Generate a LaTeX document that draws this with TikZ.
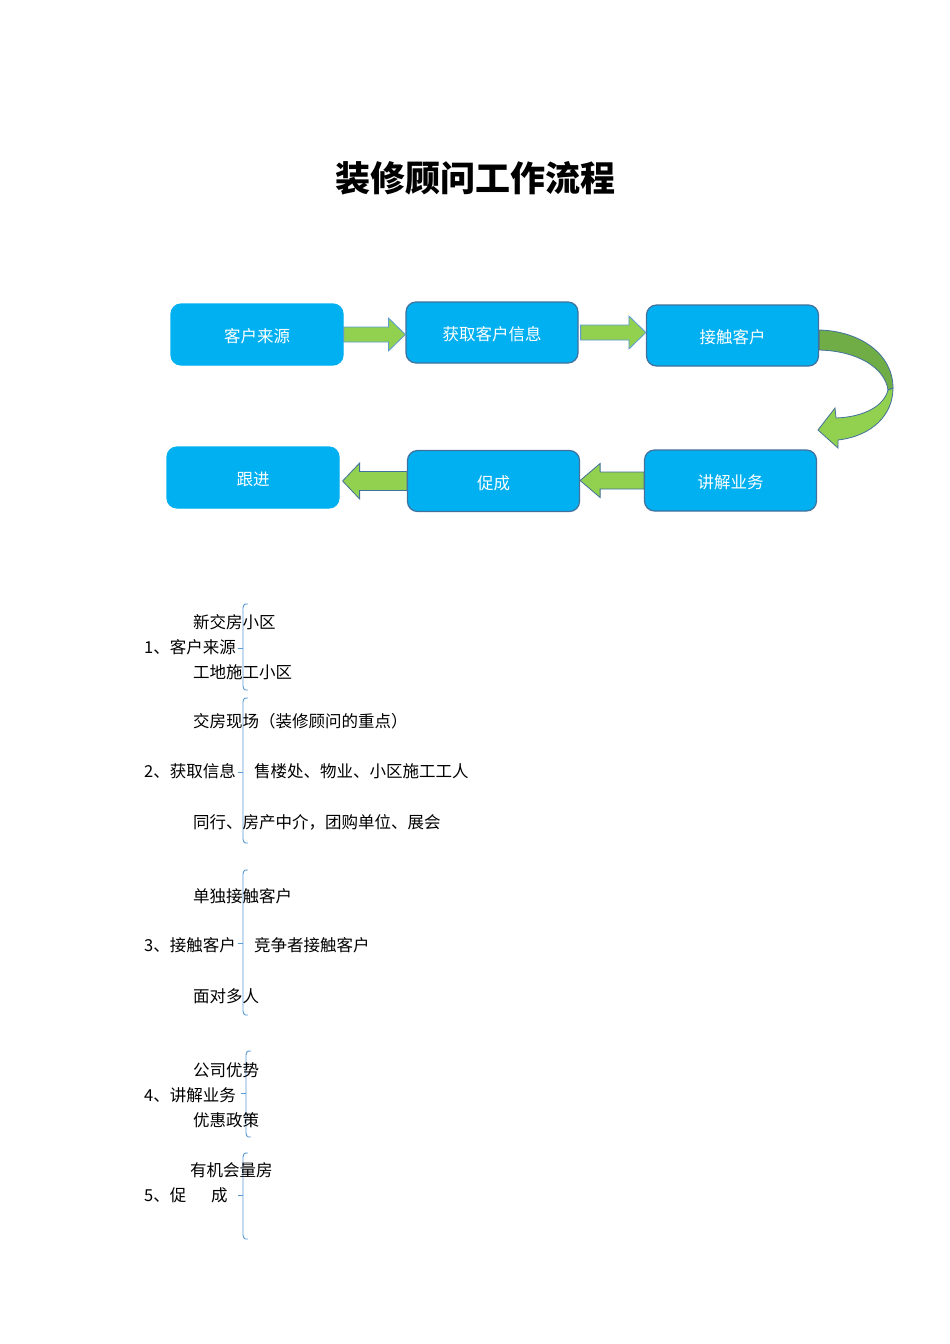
\documentclass[tikz,border=0pt]{standalone}
\usepackage{fontspec}
\setmainfont{Noto Sans CJK SC}
\usetikzlibrary{calc}
\definecolor{boxblue}{HTML}{00B0F0}
\definecolor{edgeblue}{HTML}{41719C}
\definecolor{lineblue}{HTML}{5B9BD5}
\definecolor{lightgreen}{HTML}{92D050}
\definecolor{darkgreen}{HTML}{70AD47}
\tikzstyle{stage} = [
    rectangle,
    rounded corners=10pt,
    minimum width=172pt,
    minimum height=61pt,
    inner sep=0pt,
    text height=17.5pt,
    text depth=1.5pt,
    fill=boxblue,
    draw=edgeblue,
    line width=1.2pt,
    text=white,
    font=\fontsize{16.5}{20}\selectfont
]
\tikzstyle{plainstage} = [
    stage,
    draw=boxblue
]
\tikzstyle{item} = [
    anchor=west,
    inner sep=0pt,
    font=\fontsize{16.5}{20}\selectfont
]
\tikzstyle{blockarrow} = [
    fill=lightgreen,
    draw=edgeblue,
    line width=0.8pt
]
\tikzstyle{bracket} = [
    draw=lineblue,
    line width=0.9pt
]
% x, top, middle, bottom
\newcommand{\grpbrace}[4]{
  \draw [bracket] (#1+5,#2) .. controls (#1+1,#2) .. (#1,#2+4)
    -- (#1,#4-4) .. controls (#1+1,#4) .. (#1+5,#4);
  \draw [bracket] (#1,#3) -- (#1-5,#3);
}

\begin{document}
\begin{tikzpicture}[x=1pt, y=-1pt]

\fill [white] (0,0) rectangle (950,1344);
\useasboundingbox (0,0) rectangle (950,1344);

% Title
\node (title) [font=\fontsize{35}{40}\selectfont\bfseries] at (475,178) {装修顾问工作流程};

% Flow boxes
\node (source) [plainstage] at (257,334.5) {客户来源};
\node (info) [stage] at (492,332.5) {获取客户信息};
\node (contact) [stage] at (732.5,335.5) {接触客户};
\node (follow) [plainstage] at (253,477.5) {跟进};
\node (close) [stage] at (493.5,481) {促成};
\node (explain) [stage] at (730.5,480.5) {讲解业务};

% Block arrows
\draw [blockarrow, draw=lineblue] ($(source.east)+(0,-7.5)$)
  -- ($(source.east -| info.west)+(-17,-7.5)$) -- ($(source.east -| info.west)+(-17,-16.5)$)
  -- (source.east -| info.west)
  -- ($(source.east -| info.west)+(-17,16.5)$) -- ($(source.east -| info.west)+(-17,7.5)$)
  -- ($(source.east)+(0,7.5)$) -- cycle;

\draw [blockarrow, draw=lineblue] ($(info.east)+(2,-7.5)$)
  -- ($(info.east -| contact.west)+(-17,-7.5)$) -- ($(info.east -| contact.west)+(-17,-16.5)$)
  -- (info.east -| contact.west)
  -- ($(info.east -| contact.west)+(-17,16.5)$) -- ($(info.east -| contact.west)+(-17,7.5)$)
  -- ($(info.east)+(2,7.5)$) -- cycle;

\draw [blockarrow] ($(close.west)+(0,-9.5)$)
  -- ($(close.west -| follow.east)+(20,-9.5)$) -- ($(close.west -| follow.east)+(20,-18)$)
  -- ($(close.west -| follow.east)+(3,0)$)
  -- ($(close.west -| follow.east)+(20,18)$) -- ($(close.west -| follow.east)+(20,9.5)$)
  -- ($(close.west)+(0,9.5)$) -- cycle;

\draw [blockarrow] ($(explain.west)+(0,-8.5)$)
  -- ($(explain.west -| close.east)+(20,-8.5)$) -- ($(explain.west -| close.east)+(20,-17)$)
  -- (explain.west -| close.east)
  -- ($(explain.west -| close.east)+(20,17)$) -- ($(explain.west -| close.east)+(20,8.5)$)
  -- ($(explain.west)+(0,8.5)$) -- cycle;

% Curved arrow
\coordinate (turn) at (818,430);
\draw [blockarrow] (888,390) .. controls (884,406) and (864,417) .. (836,418)
  -- (835,408) -- (turn) -- (838,448) -- (838,440)
  .. controls (872,436) and (893,415) .. (893,388) -- cycle;
\draw [blockarrow, fill=darkgreen] (contact.east |- 0,330) .. controls (860,331) and (893,354) .. (893,388)
  -- (888,390) .. controls (885,368) and (858,351) .. (contact.east |- 0,350) -- cycle;

% List
\grpbrace{243}{604}{648}{690}
\node (s1) [item] at (144,647) {1、客户来源};
\node (s1a) [item] at (193,622) {新交房小区};
\node (s1b) [item] at (193,672) {工地施工小区};

\grpbrace{243}{698}{772}{843}
\node (s2) [item] at (144,771) {2、获取信息};
\node (s2a) [item] at (193,721) {交房现场（装修顾问的重点）};
\node (s2b) [item] at (254,771) {售楼处、物业、小区施工工人};
\node (s2c) [item] at (193,822) {同行、房产中介，团购单位、展会};

\grpbrace{243}{870}{943}{1015}
\node (s3) [item] at (144,945) {3、接触客户};
\node (s3a) [item] at (193,896) {单独接触客户};
\node (s3b) [item] at (254,945) {竞争者接触客户};
\node (s3c) [item] at (193,996) {面对多人};

\grpbrace{246}{1051}{1093}{1137}
\node (s4) [item] at (144,1095) {4、讲解业务};
\node (s4a) [item] at (193,1070) {公司优势};
\node (s4b) [item] at (193,1120) {优惠政策};

\grpbrace{243}{1153}{1195}{1239}
\node (s5) [item] at (144,1195) {5、促\hspace{1.5em}成};
\node (s5a) [item] at (190,1170) {有机会量房};

\end{tikzpicture}
\end{document}
